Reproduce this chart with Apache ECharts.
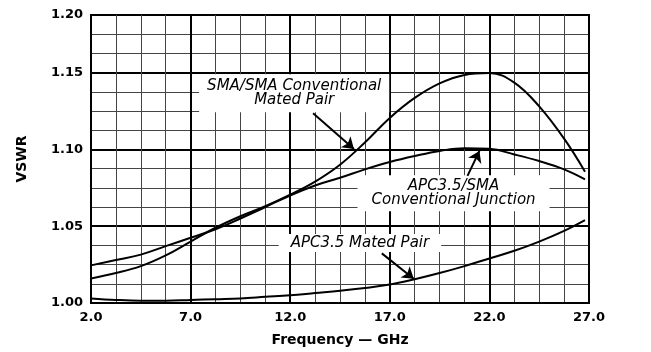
<!DOCTYPE html>
<html>
<head>
<meta charset="utf-8">
<script src="https://cdn.jsdelivr.net/npm/echarts@6/dist/echarts.min.js"></script>
<style>
html,body{margin:0;padding:0;background:#fff;}
#chart{width:651px;height:352px;}
</style>
</head>
<body>
<div id="chart"></div>
<script>
// ---- data ----
const freq = [2.0, 3.25, 4.5, 5.75, 7.0, 8.25, 9.5, 10.75, 12.0, 13.25, 14.5, 15.75, 17.0, 18.25, 19.5, 20.75, 22.0, 23.25, 24.5, 25.75, 26.8];
const smaMated = [1.016, 1.0195, 1.024, 1.031, 1.040, 1.049, 1.0565, 1.063, 1.0705, 1.079, 1.090, 1.1045, 1.1205, 1.1335, 1.143, 1.1485, 1.1498, 1.1435, 1.128, 1.107, 1.0855];
const apcSmaJunction = [1.0245, 1.028, 1.0315, 1.037, 1.0425, 1.048, 1.055, 1.0625, 1.070, 1.0765, 1.0815, 1.087, 1.0918, 1.0957, 1.099, 1.1008, 1.1004, 1.0967, 1.0924, 1.087, 1.0805];
const apcMated = [1.003, 1.002, 1.0015, 1.0015, 1.002, 1.0025, 1.003, 1.004, 1.005, 1.0065, 1.008, 1.0098, 1.012, 1.0155, 1.0195, 1.024, 1.029, 1.034, 1.040, 1.047, 1.054];
const yTickLabels = ['1.00', '1.05', '1.10', '1.15', '1.20'];
const xName = 'Frequency \u2014 GHz';
const yName = 'VSWR';
const annotationTexts = ['SMA/SMA Conventional\nMated Pair', 'APC3.5/SMA\nConventional Junction', 'APC3.5 Mated Pair'];
const annotationAt = [[12.2, 1.1365], [20.2, 1.0715], [15.5, 1.039]];
const arrows = [
  [[13.15, 1.1235], [15.2, 1.1003]],
  [[20.9, 1.0828], [21.5, 1.0990]],
  [[16.6, 1.0323], [18.2, 1.0158]]
];

function pairs(xs, ys){ return xs.map((x,i)=>[x, ys[i]]); }

const chart = echarts.init(document.getElementById('chart'), null, {renderer:'canvas'});
const labelFont = {fontFamily:'DejaVu Sans', fontWeight:'bold', fontSize:13, color:'#000'};
const lineSeries = (name, ys) => ({
  name, type:'line', data:pairs(freq, ys), showSymbol:false, symbol:'none',
  smooth:0.4, lineStyle:{color:'#000', width:2, opacity:1}, z:5, silent:true
});
const annPads = [[5, 8], [4, 14], [2, 12]];

chart.setOption({
  animation:false,
  backgroundColor:'#fff',
  grid:{left:91, right:62, top:15, bottom:49, show:true, borderColor:'#000', borderWidth:2, backgroundColor:'#fff'},
  xAxis:{
    type:'value', min:2, max:27, interval:5,
    name:xName, nameLocation:'middle', nameGap:30,
    nameTextStyle:Object.assign({}, labelFont, {fontSize:14}),
    axisLine:{show:true, lineStyle:{color:'#000', width:2}},
    axisTick:{show:false},
    axisLabel:Object.assign({margin:8, formatter:v=>v.toFixed(1)}, labelFont),
    splitLine:{show:true, lineStyle:{color:'#000', width:2}},
    minorTick:{show:false, splitNumber:4},
    minorSplitLine:{show:true, lineStyle:{color:'#444', width:1}}
  },
  yAxis:[{
    type:'value', min:1.0, max:1.1875, interval:0.0125,
    axisLine:{show:false}, axisTick:{show:false}, axisLabel:{show:false},
    splitLine:{show:true, lineStyle:{color:'#444', width:1}}
  },{
    type:'value', min:1.0, max:1.1875, interval:0.05, position:'left',
    name:yName, nameLocation:'middle', nameGap:62, nameRotate:90,
    nameTextStyle:Object.assign({}, labelFont, {fontSize:14}),
    axisLine:{show:true, lineStyle:{color:'#000', width:2}},
    axisTick:{show:false},
    axisLabel:Object.assign({margin:8, formatter:(v,i)=>yTickLabels[i]}, labelFont),
    splitLine:{show:true, lineStyle:{color:'#000', width:2}}
  }],
  series:[
    lineSeries('SMA/SMA Conventional Mated Pair', smaMated),
    lineSeries('APC3.5/SMA Conventional Junction', apcSmaJunction),
    lineSeries('APC3.5 Mated Pair', apcMated),
    {
      name:'annotations', type:'scatter', symbolSize:1, z:4, silent:true,
      itemStyle:{color:'rgba(0,0,0,0)', opacity:1},
      data:annotationAt.map((p,i)=>({
        value:p,
        label:{
          show:true, position:'inside', formatter:annotationTexts[i],
          fontFamily:'DejaVu Sans', fontStyle:'italic', fontSize:15, lineHeight:14,
          color:'#000', opacity:1, backgroundColor:'#fff', padding:annPads[i], align:'center'
        }
      })),
      markLine:{
        silent:true, symbol:['none','arrow'], symbolSize:11,
        lineStyle:{color:'#000', width:2, type:'solid', opacity:1},
        itemStyle:{color:'#000', opacity:1},
        label:{show:false},
        data:arrows.map(a=>[{coord:a[0]}, {coord:a[1]}])
      }
    }
  ]
});
</script>
</body>
</html>
